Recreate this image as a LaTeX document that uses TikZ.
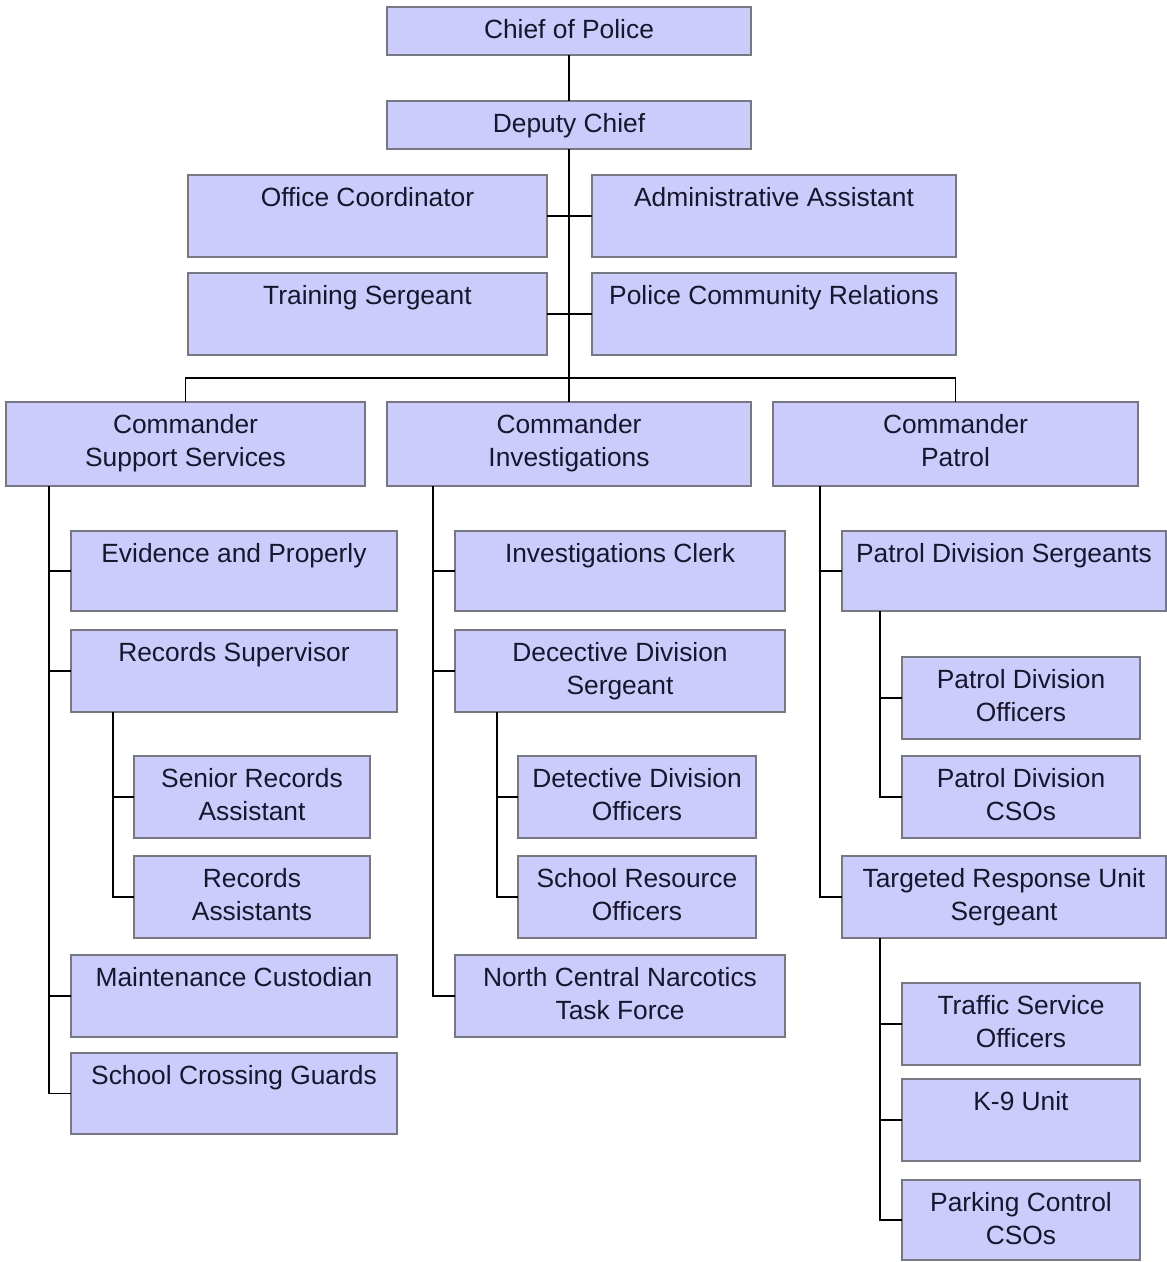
\documentclass[tikz,border=0pt]{standalone}
\usepackage{fontspec}
\setmainfont{Liberation Sans}
\definecolor{boxfill}{RGB}{204,204,252}
\definecolor{boxline}{RGB}{120,120,130}
\definecolor{textcol}{RGB}{22,22,45}

% box from (x1,y1) to (x2,y2), text hanging from the top edge
\newcommand\orgbox[6]{%
  \node[box, minimum width={(#4-#2)*0.02cm}, minimum height={(#5-#3)*0.02cm}]
    (#1) at ({(#2+#4)/2},{(#3+#5)/2}) {};
  \node[lbl] (#1-t) at ({(#2+#4)/2},{#3+12.5}) {#6};}

\begin{document}
\begin{tikzpicture}[x=0.02cm,y=-0.02cm,
  box/.style={draw=boxline, fill=boxfill, line width=0.8pt, inner sep=0pt, outer sep=0pt},
  lbl/.style={anchor=north, align=center, inner sep=0pt,
    font=\fontsize{15}{18.7}\selectfont, text=textcol},
  link/.style={draw=black, line width=1.1pt}]
\useasboundingbox (0,0) rectangle (1167,1262);

% top of the chart
\orgbox{chief}{387}{7}{751}{55}{Chief of Police}
\orgbox{dep}{387}{101}{751}{149}{Deputy Chief}
\orgbox{oc}{188}{175}{547}{257}{Office Coordinator}
\orgbox{aa}{592}{175}{956}{257}{Administrative Assistant}
\orgbox{ts}{188}{273}{547}{355}{Training Sergeant}
\orgbox{pcr}{592}{273}{956}{355}{Police Community Relations}

% commanders
\orgbox{css}{6}{402}{365}{486}{Commander\\Support Services}
\orgbox{ci}{387}{402}{751}{486}{Commander\\Investigations}
\orgbox{cp}{773}{402}{1138}{486}{Commander\\Patrol}

% support services
\orgbox{ev}{71}{531}{397}{611}{Evidence and Properly}
\orgbox{rs}{71}{630}{397}{712}{Records Supervisor}
\orgbox{sra}{134}{756}{370}{838}{Senior Records\\Assistant}
\orgbox{ra}{134}{856}{370}{938}{Records\\Assistants}
\orgbox{mc}{71}{955}{397}{1037}{Maintenance Custodian}
\orgbox{scg}{71}{1053}{397}{1134}{School Crossing Guards}

% investigations
\orgbox{ic}{455}{531}{785}{611}{Investigations Clerk}
\orgbox{dds}{455}{630}{785}{712}{Decective Division\\Sergeant}
\orgbox{ddo}{518}{756}{756}{838}{Detective Division\\Officers}
\orgbox{sro}{518}{856}{756}{938}{School Resource\\Officers}
\orgbox{nc}{455}{955}{785}{1037}{North Central Narcotics\\Task Force}

% patrol
\orgbox{pds}{842}{531}{1166}{611}{Patrol Division Sergeants}
\orgbox{pdo}{902}{657}{1140}{739}{Patrol Division\\Officers}
\orgbox{pdc}{902}{756}{1140}{838}{Patrol Division\\CSOs}
\orgbox{trus}{842}{856}{1166}{938}{Targeted Response Unit\\Sergeant}
\orgbox{tso}{902}{983}{1140}{1065}{Traffic Service\\Officers}
\orgbox{k9}{902}{1079}{1140}{1161}{K-9 Unit}
\orgbox{pcc}{902}{1180}{1140}{1260}{Parking Control\\CSOs}

% connectors
\draw[link] (chief) -- (dep);
\draw[link] (dep) -- (ci);
\draw[link] (oc) -- (aa);
\draw[link] (ts) -- (pcr);
\draw[link] (css.north) -- ++(0,-24) -| (cp.north);

\foreach \c in {ev,rs,mc,scg}
  \draw[link] ([xshift=0.86cm]css.south west) |- (\c.west);
\foreach \c in {sra,ra}
  \draw[link] ([xshift=0.84cm]rs.south west) |- (\c.west);

\foreach \c in {ic,dds,nc}
  \draw[link] ([xshift=0.92cm]ci.south west) |- (\c.west);
\foreach \c in {ddo,sro}
  \draw[link] ([xshift=0.84cm]dds.south west) |- (\c.west);

\foreach \c in {pds,trus}
  \draw[link] ([xshift=0.94cm]cp.south west) |- (\c.west);
\foreach \c in {pdo,pdc}
  \draw[link] ([xshift=0.76cm]pds.south west) |- (\c.west);
\foreach \c in {tso,k9,pcc}
  \draw[link] ([xshift=0.76cm]trus.south west) |- (\c.west);
\end{tikzpicture}
\end{document}
